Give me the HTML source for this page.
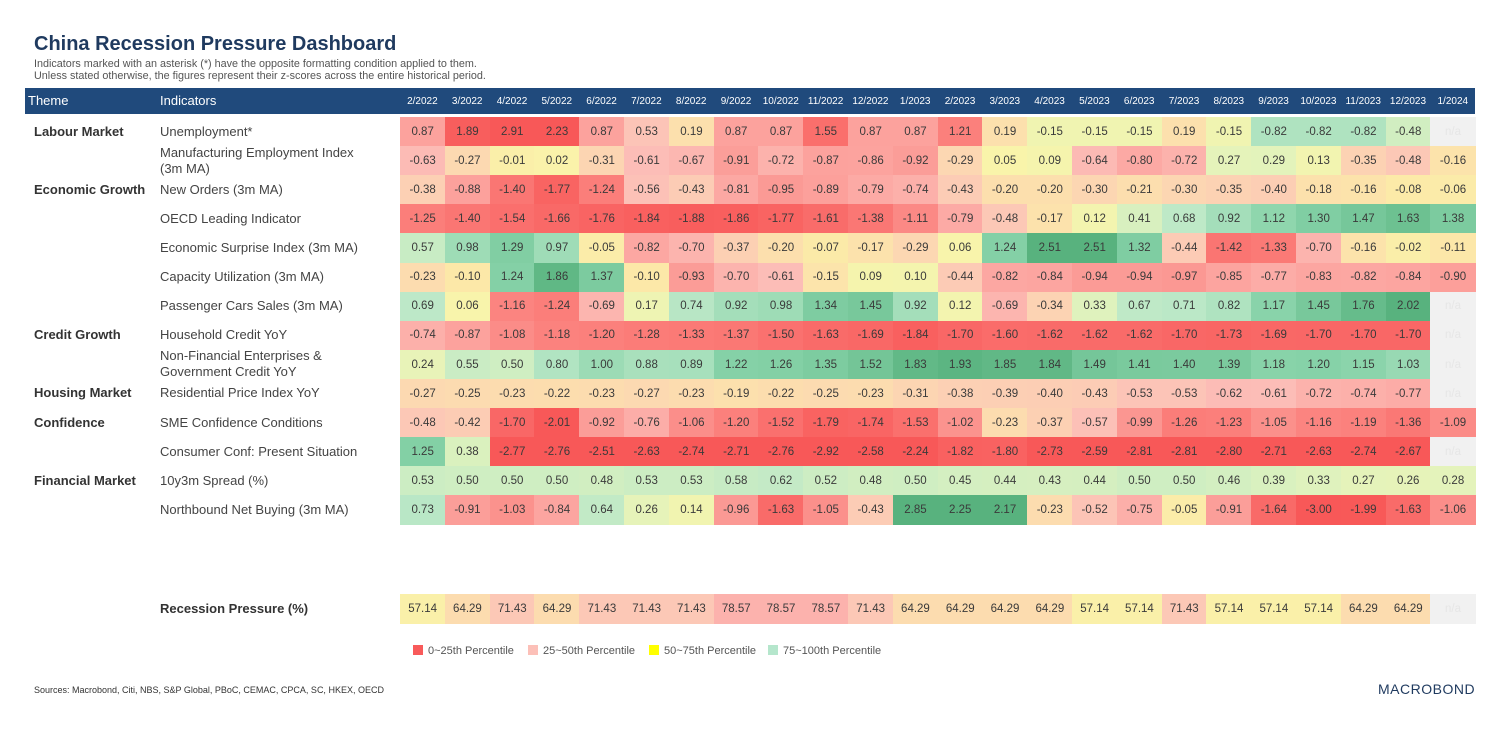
<!DOCTYPE html>
<html><head><meta charset="utf-8">
<style>
body{margin:0;width:1509px;height:731px;background:#fff;font-family:"Liberation Sans",sans-serif;position:relative;overflow:hidden;color:#333}
.abs{position:absolute;white-space:nowrap}
.cell{position:absolute;text-align:center;font-size:11.5px;color:#3a3a3a;display:flex;align-items:center;justify-content:center}
.hdr{position:absolute;left:25px;top:88px;width:1450px;height:26px;background:#204a7c}
.hl{position:absolute;color:#fff;font-size:10px;top:96px}
.theme{font-weight:bold;font-size:13px;color:#333}
.ind{font-size:13px;color:#444;line-height:16px}
</style></head><body>
<div class="abs" style="left:34px;top:33px;font-size:20px;font-weight:bold;color:#1f3a5f">China Recession Pressure Dashboard</div>
<div class="abs" style="left:34px;top:58px;font-size:10.8px;color:#555;line-height:12px">Indicators marked with an asterisk (*) have the opposite formatting condition applied to them.<br>Unless stated otherwise, the figures represent their z-scores across the entire historical period.</div>
<div class="hdr"></div>
<div class="hl" style="left:28px;font-size:13px;top:93px">Theme</div>
<div class="hl" style="left:160px;font-size:13px;top:93px">Indicators</div>
<div id="grid"></div>
<div class="abs" style="left:34px;top:685px;font-size:9px;color:#333">Sources: Macrobond, Citi, NBS, S&amp;P Global, PBoC, CEMAC, CPCA, SC, HKEX, OECD</div>
<div class="abs" style="left:1378px;top:681px;font-size:14px;letter-spacing:0.5px;color:#1f3a5f">MACROBOND</div>
<script>
const months=["2/2022","3/2022","4/2022","5/2022","6/2022","7/2022","8/2022","9/2022","10/2022","11/2022","12/2022","1/2023","2/2023","3/2023","4/2023","5/2023","6/2023","7/2023","8/2023","9/2023","10/2023","11/2023","12/2023","1/2024"];
const themes=["Labour Market","","Economic Growth","","","","","Credit Growth","","Housing Market","Confidence","","Financial Market",""];
const indicators=["Unemployment*","Manufacturing Employment Index<br>(3m MA)","New Orders (3m MA)","OECD Leading Indicator","Economic Surprise Index (3m MA)","Capacity Utilization (3m MA)","Passenger Cars Sales (3m MA)","Household Credit YoY","Non-Financial Enterprises &amp;<br>Government Credit YoY","Residential Price Index YoY","SME Confidence Conditions","Consumer Conf: Present Situation","10y3m Spread (%)","Northbound Net Buying (3m MA)"];
const inverted=[true,false,false,false,false,false,false,false,false,false,false,false,false,false];
const r0=[0.87,1.89,2.91,2.23,0.87,0.53,0.19,0.87,0.87,1.55,0.87,0.87,1.21,0.19,-0.15,-0.15,-0.15,0.19,-0.15,-0.82,-0.82,-0.82,-0.48,null];
const r1=[-0.63,-0.27,-0.01,0.02,-0.31,-0.61,-0.67,-0.91,-0.72,-0.87,-0.86,-0.92,-0.29,0.05,0.09,-0.64,-0.80,-0.72,0.27,0.29,0.13,-0.35,-0.48,-0.16];
const r2=[-0.38,-0.88,-1.40,-1.77,-1.24,-0.56,-0.43,-0.81,-0.95,-0.89,-0.79,-0.74,-0.43,-0.20,-0.20,-0.30,-0.21,-0.30,-0.35,-0.40,-0.18,-0.16,-0.08,-0.06];
const r3=[-1.25,-1.40,-1.54,-1.66,-1.76,-1.84,-1.88,-1.86,-1.77,-1.61,-1.38,-1.11,-0.79,-0.48,-0.17,0.12,0.41,0.68,0.92,1.12,1.30,1.47,1.63,1.38];
const r4=[0.57,0.98,1.29,0.97,-0.05,-0.82,-0.70,-0.37,-0.20,-0.07,-0.17,-0.29,0.06,1.24,2.51,2.51,1.32,-0.44,-1.42,-1.33,-0.70,-0.16,-0.02,-0.11];
const r5=[-0.23,-0.10,1.24,1.86,1.37,-0.10,-0.93,-0.70,-0.61,-0.15,0.09,0.10,-0.44,-0.82,-0.84,-0.94,-0.94,-0.97,-0.85,-0.77,-0.83,-0.82,-0.84,-0.90];
const r6=[0.69,0.06,-1.16,-1.24,-0.69,0.17,0.74,0.92,0.98,1.34,1.45,0.92,0.12,-0.69,-0.34,0.33,0.67,0.71,0.82,1.17,1.45,1.76,2.02,null];
const r7=[-0.74,-0.87,-1.08,-1.18,-1.20,-1.28,-1.33,-1.37,-1.50,-1.63,-1.69,-1.84,-1.70,-1.60,-1.62,-1.62,-1.62,-1.70,-1.73,-1.69,-1.70,-1.70,-1.70,null];
const r8=[0.24,0.55,0.50,0.80,1.00,0.88,0.89,1.22,1.26,1.35,1.52,1.83,1.93,1.85,1.84,1.49,1.41,1.40,1.39,1.18,1.20,1.15,1.03,null];
const r9=[-0.27,-0.25,-0.23,-0.22,-0.23,-0.27,-0.23,-0.19,-0.22,-0.25,-0.23,-0.31,-0.38,-0.39,-0.40,-0.43,-0.53,-0.53,-0.62,-0.61,-0.72,-0.74,-0.77,null];
const r10=[-0.48,-0.42,-1.70,-2.01,-0.92,-0.76,-1.06,-1.20,-1.52,-1.79,-1.74,-1.53,-1.02,-0.23,-0.37,-0.57,-0.99,-1.26,-1.23,-1.05,-1.16,-1.19,-1.36,-1.09];
const r11=[1.25,0.38,-2.77,-2.76,-2.51,-2.63,-2.74,-2.71,-2.76,-2.92,-2.58,-2.24,-1.82,-1.80,-2.73,-2.59,-2.81,-2.81,-2.80,-2.71,-2.63,-2.74,-2.67,null];
const r12=[0.53,0.50,0.50,0.50,0.48,0.53,0.53,0.58,0.62,0.52,0.48,0.50,0.45,0.44,0.43,0.44,0.50,0.50,0.46,0.39,0.33,0.27,0.26,0.28];
const r13=[0.73,-0.91,-1.03,-0.84,0.64,0.26,0.14,-0.96,-1.63,-1.05,-0.43,2.85,2.25,2.17,-0.23,-0.52,-0.75,-0.05,-0.91,-1.64,-3.00,-1.99,-1.63,-1.06];
const recession=[57.14,64.29,71.43,64.29,71.43,71.43,71.43,78.57,78.57,78.57,71.43,64.29,64.29,64.29,64.29,57.14,57.14,71.43,57.14,57.14,57.14,64.29,64.29,null];
const rows=[r0,r1,r2,r3,r4,r5,r6,r7,r8,r9,r10,r11,r12,r13];

const X0=400,CW=44.8,Y0=117,RH=29.1;
const stops=[[-2.0,[248,88,88]],[-1.2,[251,128,124]],[-0.6,[252,190,184]],[-0.3,[252,214,178]],[-0.1,[252,232,168]],[0.05,[249,244,170]],[0.3,[226,243,188]],[0.7,[188,232,200]],[1.2,[134,210,168]],[2.0,[88,178,126]]];
function col(z){
  if(z<=stops[0][0])return 'rgb('+stops[0][1]+')';
  for(let i=1;i<stops.length;i++){
    if(z<=stops[i][0]){const a=stops[i-1],b=stops[i];const t=(z-a[0])/(b[0]-a[0]);
      return 'rgb('+a[1].map((c,k)=>Math.round(c+(b[1][k]-c)*t)).join(',')+')';}
  }
  return 'rgb('+stops[stops.length-1][1]+')';
}
const g=document.getElementById('grid');
function xOf(i){return X0+i*CW;}
months.forEach((m,i)=>{
  const d=document.createElement('div');d.className='hl';
  
  
  d.style.left=xOf(i)+'px';d.style.width=CW+'px';d.style.textAlign='center';d.textContent=m;g.appendChild(d);
});
function addCell(v,i,y,z,fmt){
  const c=document.createElement('div');c.className='cell';
  
  
  c.style.left=xOf(i)+'px';c.style.top=y+'px';c.style.width=(CW+0.5)+'px';c.style.height=(RH+0.5)+'px';
  if(v===null){c.style.background='#f1f1f1';c.style.color='#e6e6e6';c.textContent='n/a';}
  else{c.style.background=col(z);c.textContent=fmt(v);}
  g.appendChild(c);
}
rows.forEach((r,ri)=>{
  const y=Y0+ri*RH;
  if(themes[ri]){const t=document.createElement('div');t.className='abs theme';
    
    
    t.style.left='34px';t.style.top=(y+RH/2-8)+'px';t.textContent=themes[ri];g.appendChild(t);}
  const n=document.createElement('div');n.className='abs ind';
  
  
  const two=indicators[ri].includes('<br>');
  n.style.left='160px';n.style.top=(y+RH/2-(two?16:8))+'px';n.innerHTML=indicators[ri];g.appendChild(n);
  r.forEach((v,i)=>addCell(v,i,y,inverted[ri]?-v:v,x=>x.toFixed(2)));
});
const ry=594;
const rl=document.createElement('div');rl.className='abs theme';


rl.style.left='160px';rl.style.top=(ry+RH/2-8)+'px';rl.textContent='Recession Pressure (%)';g.appendChild(rl);
recession.forEach((v,i)=>addCell(v,i,ry,v===null?0:-(v-57.14)/30,x=>x.toFixed(2)));
const leg=[['0~25th Percentile','#f85a5a',413],['25~50th Percentile','#fcc0b8',528],['50~75th Percentile','#ffff00',649],['75~100th Percentile','#b5e6cc',768]];
leg.forEach(l=>{
  const s=document.createElement('div');s.className='abs';
  
  
  s.style.left=l[2]+'px';s.style.top='645px';s.style.fontSize='11px';s.style.color='#555';
  s.innerHTML='<span style="display:inline-block;width:10px;height:10px;background:'+l[1]+';vertical-align:-1px;margin-right:5px"></span>'+l[0];
  g.appendChild(s);
});
</script>
</body></html>
